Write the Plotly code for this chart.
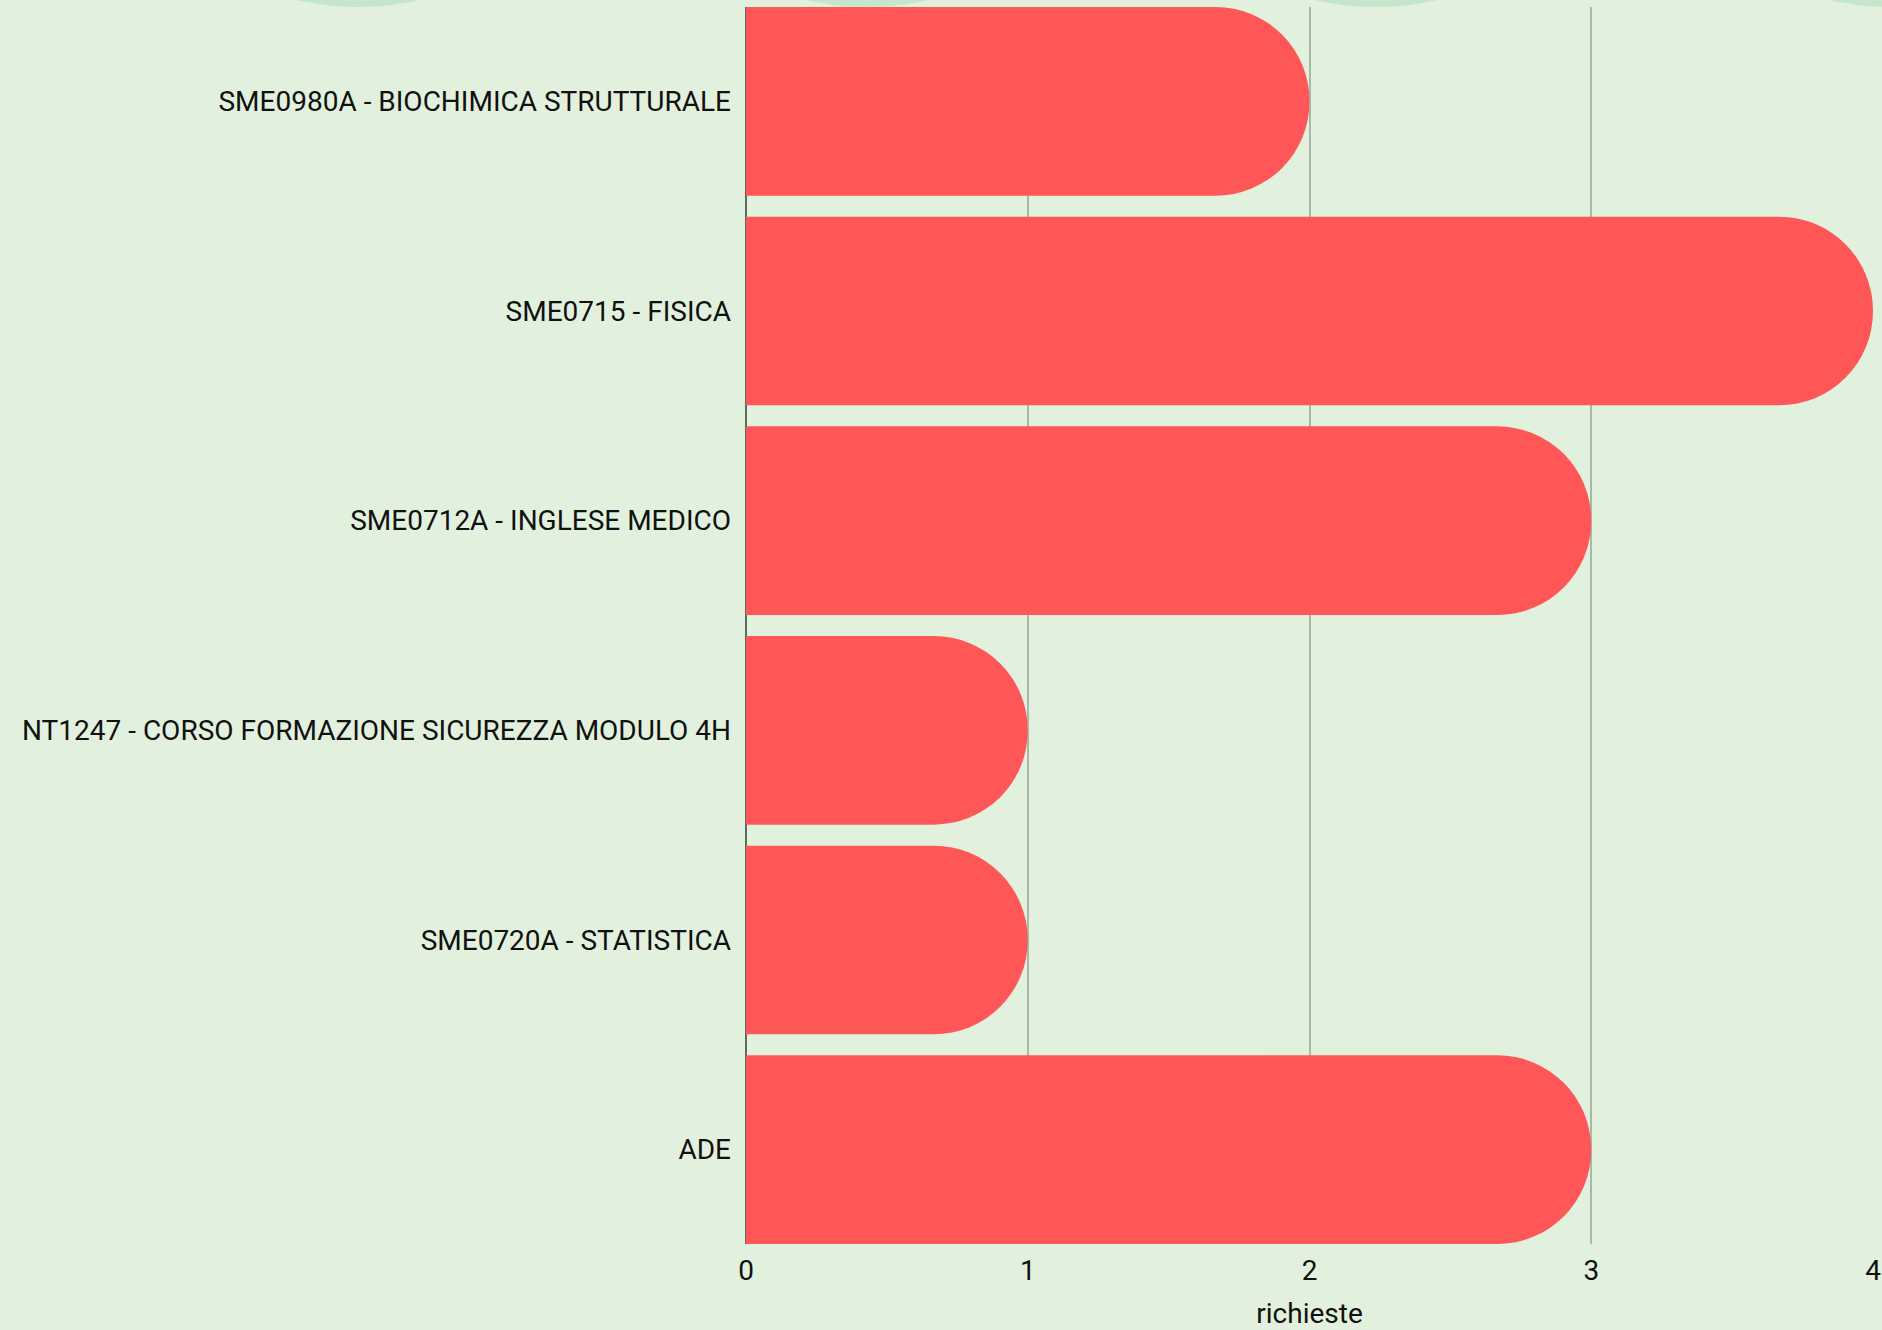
import plotly.graph_objects as go

categories = [
    "SME0980A - BIOCHIMICA STRUTTURALE",
    "SME0715 - FISICA",
    "SME0712A - INGLESE MEDICO",
    "NT1247 - CORSO FORMAZIONE SICUREZZA MODULO 4H",
    "SME0720A - STATISTICA",
    "ADE",
]
richieste = [2, 4, 3, 1, 1, 3]
x_ticks = [0, 1, 2, 3, 4]

W, H = 1882, 1330
L, R, T, B = 746, 9, 7, 86
pw, ph = W - L - R, H - T - B

BG = "#e2f1dd"
BAR = "#ff5757"
FONT = "Roboto"
GAP = 0.1

fig = go.Figure(
    go.Bar(
        x=richieste,
        y=categories,
        orientation="h",
        marker=dict(color=BAR, line=dict(width=0)),
        hoverinfo="x+y",
    )
)

# decorative circles at the top of the page (pixel positions -> paper coords)
shapes = []
for cx in [358, 867, 1376, 1891]:
    r = 280
    cy = 7 - r
    x0 = (cx - r - L) / pw
    x1 = (cx + r - L) / pw
    y0 = (H - B - (cy + r)) / ph
    y1 = (H - B - (cy - r)) / ph
    shapes.append(dict(type="circle", xref="paper", yref="paper",
                       x0=x0, x1=x1, y0=y0, y1=y1,
                       fillcolor="#c6e6cb", line=dict(width=0), layer="below"))

n = len(categories)
fig.update_layout(
    width=W, height=H,
    margin=dict(l=L, r=R, t=T, b=B, pad=0),
    paper_bgcolor=BG,
    plot_bgcolor="rgba(0,0,0,0)",
    bargap=GAP,
    barcornerradius="50%",
    showlegend=False,
    font=dict(family=FONT, size=28, color="#111111"),
    shapes=shapes,
    xaxis=dict(
        range=[0, 4],
        tickvals=x_ticks,
        showgrid=True,
        gridcolor="#aab9a7",
        gridwidth=1.5,
        zeroline=True,
        zerolinecolor="#5f6b5d",
        zerolinewidth=2,
        ticks="",
        ticklen=0,
        ticklabelstandoff=7,
        tickfont=dict(size=28),
        title=dict(text="richieste", font=dict(size=28), standoff=18),
        automargin=False,
        fixedrange=True,
    ),
    yaxis=dict(
        range=[n - 0.5 - GAP / 2, -0.5 + GAP / 2],
        showgrid=False,
        zeroline=False,
        ticks="",
        ticklabelstandoff=14,
        tickfont=dict(size=28),
        automargin=False,
        fixedrange=True,
    ),
)

fig.write_html(
    "out.html",
    config={"displayModeBar": False},
    post_script="document.body.style.margin='0';document.body.style.overflow='hidden';",
)
